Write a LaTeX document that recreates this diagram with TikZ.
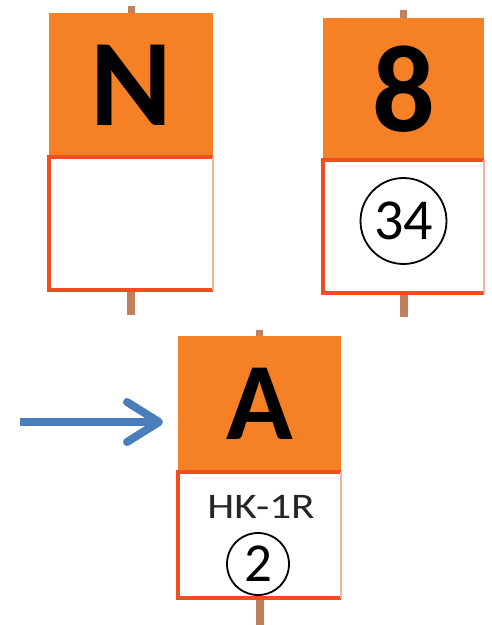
\documentclass[tikz,border=0pt]{standalone}
\usepackage{fontspec}
\setmainfont{Carlito}
\newfontfamily\widefont[FakeStretch=1.2]{Carlito}
\usetikzlibrary{positioning,arrows.meta}
\definecolor{signorange}{RGB}{246,128,38}
\definecolor{signred}{RGB}{240,78,32}
\definecolor{polebrown}{RGB}{192,128,92}
\definecolor{arrowblue}{RGB}{74,126,187}

\begin{document}
\begin{tikzpicture}[x=1pt, y=-1pt,
	head/.style={rectangle, fill=signorange, minimum width=164pt, minimum height=144pt, inner sep=0pt, outer sep=0pt, font=\bfseries\fontsize{124}{124}\selectfont},
	plate/.style={rectangle, fill=white, minimum width=164pt, minimum height=133pt, inner sep=0pt, outer sep=0pt},
	rim/.style={draw=signred, line width=4pt},
	rimthin/.style={draw=signred!45, line width=1.5pt},
	pole/.style={draw=polebrown, line width=8pt},
	ring/.style={circle, draw, line width=1.8pt, inner sep=0pt}]
				\useasboundingbox (0,0) rectangle (491,625);
				% sign N
				\node[head] (1) at (131,85) {N};
				\node[plate, below=0pt of 1] (2) {};
				% sign 8
				\node[head, minimum width=161pt, minimum height=142pt] (3) at (403.5,89) {8};
				\node[plate, minimum width=161pt, below=0pt of 3] (4) {};
				\node[ring, minimum size=86pt, font=\fontsize{58}{58}\selectfont] (7) at (403.5,221) {34};
				% sign A
				\node[head, minimum width=163pt, minimum height=136pt, font=\bfseries\fontsize{110}{110}\selectfont] (5) at (259.5,404) {A};
				\node[plate, minimum width=163pt, minimum height=126pt, below=0pt of 5] (6) {};
				\node[font=\widefont\fontsize{36}{36}\selectfont, text=black!85] (8) at (261,507) {HK-1R};
				\node[ring, minimum size=62pt, font=\fontsize{55}{55}\selectfont] (9) at (258,564) {2};
				
				\draw[pole, line width=7pt] (1.north) -- ++(0,-7);
				\draw[pole] (2.south) -- ++(0,25);
				\draw[pole, line width=7pt] (3.north) -- ++(0,-8);
				\draw[pole] (4.south) -- ++(0,24);
				\draw[pole, line width=7pt] (5.north) -- ++(0,-6);
				\draw[pole] (6.south) -- ++(0,27);
				
				\draw[rim] (2.north east) -- (2.north west) -- (2.south west) -- (2.south east);
				\draw[rimthin] (2.north east) -- (2.south east);
				\draw[rim] (4.north east) -- (4.north west) -- (4.south west) -- (4.south east);
				\draw[rimthin] (4.north east) -- (4.south east);
				\draw[rim] (6.north east) -- (6.north west) -- (6.south west) -- (6.south east);
				\draw[rimthin] (6.north east) -- (6.south east);
				
				\coordinate (0) at (20,422);
				\draw[arrowblue, line width=8pt, -{Straight Barb[length=32pt, width=40pt, line width=8pt, round]}, shorten >=15pt] (0) -- (0 -| 5.west);
\end{tikzpicture}
\end{document}
